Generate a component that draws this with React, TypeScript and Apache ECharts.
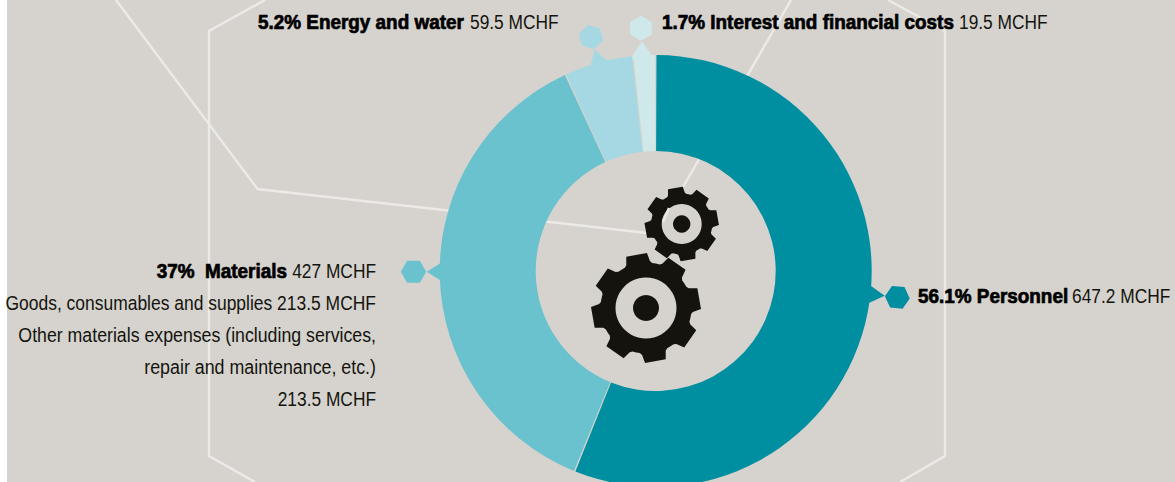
import React, { useEffect, useRef } from "react";
import * as echarts from "echarts";

const categories = ["Personnel", "Materials", "Energy and water", "Interest and financial costs"];
const shares = ["56.1%", "37%", "5.2%", "1.7%"];
const amounts = [647.2, 427, 59.5, 19.5];
const sliceColors = ["#008FA0", "#69C2CE", "#A5D8E3", "#CFE8EA"];
const materialLines = [
  "Goods, consumables and supplies 213.5 MCHF",
  "Other materials expenses (including services,",
  "repair and maintenance, etc.)",
  "213.5 MCHF",
];
const materialLineScales = [0.895, 0.91, 0.914, 0.89];

const BG = "#D6D3CE";
const LINE = "#ECEAE6";
const INK = "#14130E";
const FONT = '"Liberation Sans", Arial, sans-serif';
const SIZE = 19.5;
const REG_SCALE = 0.89;
const BOLD_SCALE = 0.97;

function gearPoints(cx: number, cy: number, root: number, tip: number, rootHalf: number, tipHalf: number) {
  const pts: number[][] = [];
  const teeth = 8;
  const start = (-10 * Math.PI) / 180;
  const at = (r: number, off: number, ang: number) => [
    cx + Math.sin(ang) * r + Math.cos(ang) * off,
    cy - Math.cos(ang) * r + Math.sin(ang) * off,
  ];
  for (let k = 0; k < teeth; k++) {
    const a = start + (k * 2 * Math.PI) / teeth;
    const rootA = Math.asin(rootHalf / root);
    pts.push(at(root, -rootHalf, a));
    pts.push(at(tip, -tipHalf, a));
    pts.push(at(tip, tipHalf, a));
    pts.push(at(root, rootHalf, a));
    const next = a + (2 * Math.PI) / teeth;
    for (let s = 1; s < 6; s++) {
      const t = a + rootA + ((next - rootA - (a + rootA)) * s) / 6;
      pts.push([cx + Math.sin(t) * root, cy - Math.cos(t) * root]);
    }
  }
  return pts;
}

function hexagon(cx: number, cy: number, r: number, rotDeg: number) {
  const pts: number[][] = [];
  for (let k = 0; k < 6; k++) {
    const a = ((rotDeg + k * 60) * Math.PI) / 180;
    pts.push([cx + r * Math.cos(a), cy + r * Math.sin(a)]);
  }
  return pts;
}

const poly = (points: number[][], fill: string) => ({ type: "polygon", shape: { points }, style: { fill } });
const wire = (points: number[][]) => ({
  type: "polyline",
  shape: { points },
  style: { stroke: LINE, lineWidth: 2.4, fill: "none" },
});
const disc = (cx: number, cy: number, r: number, fill: string) => ({ type: "circle", shape: { cx, cy, r }, style: { fill } });

const boldText = (text: string, x: number, y: number, align: string) => ({
  type: "text",
  x,
  y,
  scaleX: BOLD_SCALE,
  style: {
    text,
    fontFamily: FONT,
    fontSize: SIZE,
    fontWeight: "bold",
    fill: "#000",
    stroke: "#000",
    lineWidth: 0.7,
    align,
    verticalAlign: "middle",
  },
});
const regText = (text: string, x: number, y: number, align: string, scaleX = REG_SCALE) => ({
  type: "text",
  x,
  y,
  scaleX,
  style: { text, fontFamily: FONT, fontSize: SIZE, fill: INK, align, verticalAlign: "middle" },
});
const title = (i: number, gap = " ") => `${shares[i]}${gap}${categories[i]}`;
const money = (i: number) => `${amounts[i]} MCHF`;

export default function App() {
  const ref = useRef<HTMLDivElement>(null);
  useEffect(() => {
    const chart = echarts.init(ref.current!, null, { renderer: "svg" });
    chart.setOption({
      animation: false,
      backgroundColor: "#FFFFFF",
      graphic: {
        elements: [
          { type: "rect", shape: { x: 7, y: 0, width: 1168, height: 482 }, style: { fill: BG } },
          wire([[265, 0], [209, 31], [209, 456], [255, 482]]),
          wire([[888, 0], [945, 31], [945, 456], [900, 482]]),
          wire([[116, 0], [257.5, 189], [647, 233]]),
          wire([[791, 0], [683, 187]]),
          poly(gearPoints(646, 308, 45.5, 54, 12, 10.5), INK),
          disc(646, 308, 30.5, BG),
          disc(646, 308, 13, INK),
          poly(gearPoints(681.7, 224, 30.5, 36.5, 8.5, 7.5), INK),
          disc(681.7, 224, 20, BG),
          wire([[669, 208], [663, 222]]),
          disc(681.7, 224, 8.7, INK),
          poly(hexagon(897.3, 297.3, 12.5, 5), sliceColors[0]),
          poly([[884.7, 295.7], [864, 281], [860, 307]], sliceColors[0]),
          poly(hexagon(413.5, 271.7, 12.7, 0), sliceColors[1]),
          poly([[426.7, 271.7], [448, 258.5], [448, 285]], sliceColors[1]),
          poly(hexagon(591, 37, 12.5, 15), sliceColors[2]),
          poly([[594.7, 49.3], [588, 76], [618, 71]], sliceColors[2]),
          poly(hexagon(641, 28.3, 12.5, 30), sliceColors[3]),
          poly([[641.7, 41.3], [630, 60], [654.5, 59]], sliceColors[3]),
          boldText(title(0), 918, 296, "left"),
          regText(money(0), 1072, 296, "left"),
          boldText(title(1, "  "), 287, 271, "right"),
          regText(money(1), 376, 271, "right"),
          boldText(title(2), 258, 22, "left"),
          regText(money(2), 470, 22, "left"),
          boldText(title(3), 662, 22, "left"),
          regText(money(3), 959, 22, "left"),
          ...materialLines.map((text, i) => regText(text, 376, 303.5 + i * 32, "right", materialLineScales[i])),
        ],
      },
      series: [
        {
          type: "pie",
          center: [655.7, 271],
          radius: [120, 216],
          startAngle: 90,
          padAngle: 0.4,
          clockwise: true,
          silent: true,
          label: { show: false },
          labelLine: { show: false },
          data: categories.map((name, i) => ({
            name,
            value: amounts[i],
            itemStyle: { color: sliceColors[i] },
          })),
        },
      ],
    });
    return () => chart.dispose();
  }, []);
  return <div ref={ref} style={{ position: "fixed", left: 0, top: 0, width: 1175, height: 482 }} />;
}
